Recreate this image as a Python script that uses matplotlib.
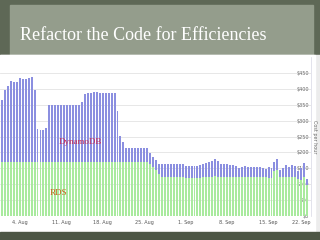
import datetime as dt
import matplotlib
matplotlib.use('Agg')
import matplotlib.pyplot as plt
from matplotlib.patches import Rectangle

# Half-day cost samples, 1 Aug to 21 Sep
start = dt.datetime(2013, 8, 1)

rds_cost = ([170] * 50 + [165, 155, 145, 132] + [122] * 8 + [121] * 5 + [119]
            + [122] * 4 + [125] + [122] * 17 + [118, 118, 143, 145]
            + [122] * 6 + [115, 113, 122, 97])

dynamodb_cost = ([195, 226, 240, 255, 250, 250, 263, 261, 261, 263, 266, 226,
                  103, 100, 100, 106] + [179] * 11 + [190]
                 + [213, 216, 218, 220, 219, 218, 218, 218, 218, 218, 218,
                    161, 82, 64] + [43] * 8 + [32, 32, 31, 32] + [40] * 8
                 + [37] * 5
                 + [41, 41, 44, 48, 51, 55, 50, 42, 40, 40, 38, 38, 36, 28,
                    33, 34, 33, 33, 32, 33, 31, 28, 25,
                    37, 32, 27, 35, 24, 28, 38, 33, 38, 34, 28, 39, 46, 18])

dates = [start + dt.timedelta(hours=12 * i) for i in range(len(rds_cost))]

tick_dates = [dt.datetime(2013, 8, 4) + dt.timedelta(days=7 * k) for k in range(8)]
tick_labels = ['4. Aug', '11. Aug', '18. Aug', '25. Aug',
               '1. Sep', '8. Sep', '15. Sep', '22. Sep']
y_ticks = [0, 50, 100, 150, 200, 250, 300, 350, 400, 450]
y_labels = ['$' + str(v) for v in y_ticks]

fig = plt.figure(figsize=(3.2, 2.4), dpi=100, facecolor='#5e6856')

# slide decoration: title panel, white chart card, bottom band
deco = [
    Rectangle((10 / 320, 185 / 240), 303 / 320, 50 / 240, color='#949d8c'),
    Rectangle((0, 8 / 240), 1, 177 / 240, color='#ececec'),
    Rectangle((0, 8 / 240), 315 / 320, 177 / 240, color='white'),
    Rectangle((0, 0), 1, 8 / 240, color='#4d5645'),
]
for p in deco:
    p.set_transform(fig.transFigure)
    p.set_zorder(-10)
    fig.patches.append(p)

fig.text(20 / 320, 205 / 240, 'Refactor the Code for Efficiencies',
         color='white', fontsize=13, family='Liberation Serif', va='center')

ax = fig.add_axes([0, 24 / 240, 311 / 320, 159 / 240])
ax.set_facecolor('white')

ax.bar(dates, rds_cost, width=0.33, color='#a9ea9e', linewidth=0, zorder=2)
ax.bar(dates, dynamodb_cost, bottom=rds_cost, width=0.33, color='#8b8fe0',
       linewidth=0, zorder=2)

ax.set_ylim(0, 500)
ax.set_xlim(start - dt.timedelta(hours=8), start + dt.timedelta(days=52, hours=4))

ax.set_yticks(y_ticks)
ax.set_yticklabels(y_labels)
ax.yaxis.tick_right()
ax.tick_params(axis='y', length=0, pad=-1.5, labelsize=3.5, labelcolor='#666666')
for lab in ax.get_yticklabels():
    lab.set_horizontalalignment('right')
ax.yaxis.set_label_position('right')
ax.set_ylabel('Cost per hour', rotation=270, fontsize=3.5, color='#666666',
              labelpad=4)

ax.set_xticks(tick_dates)
ax.set_xticklabels(tick_labels)
ax.tick_params(axis='x', length=0, pad=3, labelsize=3.5, labelcolor='#555555')
ax.get_xticklabels()[-1].set_horizontalalignment('right')

ax.grid(axis='y', color='#e3e3e3', linewidth=0.6, zorder=0)
ax.set_axisbelow(True)
for side in ['top', 'left', 'bottom']:
    ax.spines[side].set_visible(False)
ax.spines['right'].set_color('#d8d8e4')
ax.spines['right'].set_linewidth(0.5)

ax.text(start + dt.timedelta(days=13.2), 233, 'DynamoDB', color='#c8305a',
        fontsize=6.5, family='Liberation Serif', ha='center', va='center', zorder=3)
ax.text(start + dt.timedelta(days=9.6), 72, 'RDS', color='#c8641e',
        fontsize=6.5, family='Liberation Serif', ha='center', va='center', zorder=3)

fig.savefig('out.png', dpi=100, facecolor=fig.get_facecolor())
